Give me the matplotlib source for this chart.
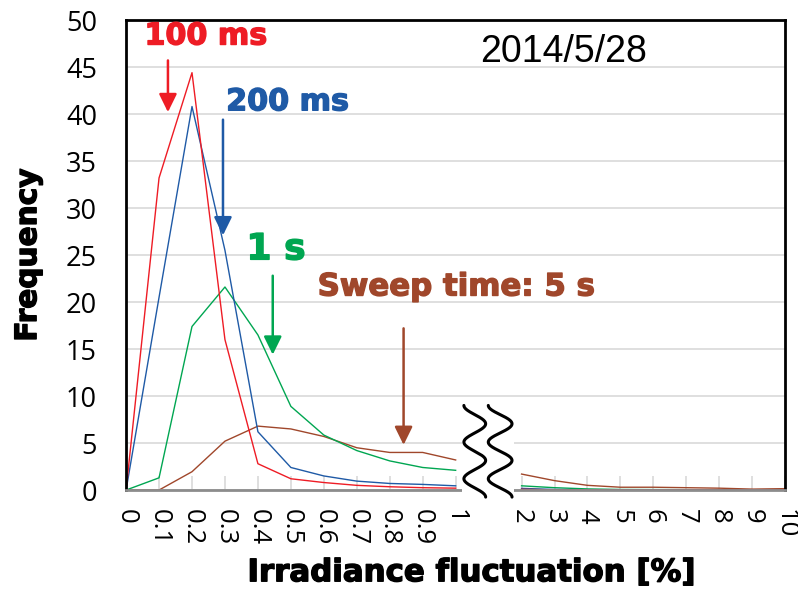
import matplotlib
matplotlib.use("Agg")
import matplotlib.pyplot as plt
import matplotlib.patheffects as pe
import numpy as np
from matplotlib.patches import Rectangle

plt.rcParams['font.family'] = ['Liberation Sans', 'DejaVu Sans']

# categories (blank slot = axis break between 1 and 2)
labels = ['0', '0.1', '0.2', '0.3', '0.4', '0.5', '0.6', '0.7', '0.8', '0.9', '1',
          '', '2', '3', '4', '5', '6', '7', '8', '9', '10']

nan = np.nan
ms100 = [0, 33.2, 44.4, 16.0, 2.8, 1.2, 0.8, 0.5, 0.35, 0.25, 0.2,
         nan, 0.08, 0.02, 0.01, 0, 0, 0, 0, 0, 0]
ms200 = [0, 20.5, 40.8, 25.5, 6.2, 2.4, 1.5, 0.95, 0.7, 0.6, 0.45,
         nan, 0.18, 0.06, 0.03, 0.02, 0.01, 0.01, 0, 0, 0]
s1 = [0, 1.3, 17.4, 21.6, 16.5, 8.9, 5.85, 4.2, 3.1, 2.4, 2.1,
      nan, 0.45, 0.25, 0.12, 0.06, 0.05, 0.04, 0.03, 0.02, 0.02]
s5 = [0, 0, 1.95, 5.2, 6.8, 6.5, 5.7, 4.5, 4.0, 4.0, 3.2,
      nan, 1.7, 1.0, 0.5, 0.3, 0.3, 0.25, 0.2, 0.1, 0.15]

c_red = '#ee1c25'
c_blue = '#1f5aa6'
c_green = '#00a651'
c_brown = '#a0472b'


def heavy(col):
    # fake a black-weight face by stroking the glyph outline
    return dict(family='DejaVu Sans', fontweight='bold', color=col,
                path_effects=[pe.withStroke(linewidth=1.0, foreground=col)])


x = np.arange(len(labels))

fig = plt.figure(figsize=(7.98, 5.89), dpi=100)
ax = fig.add_axes([0.158, 0.168, 0.826, 0.798])

ax.plot(x, s5, color=c_brown, lw=1.0, zorder=2)
ax.plot(x, s1, color=c_green, lw=1.0, zorder=2)
ax.plot(x, ms200, color=c_blue, lw=1.0, zorder=2)
ax.plot(x, ms100, color=c_red, lw=1.0, zorder=2)

ax.set_xlim(0, len(labels) - 1)
ax.set_ylim(0, 50)
ax.set_yticks(np.arange(0, 51, 5))
ax.set_xticks(x)
ax.set_xticklabels(labels, rotation=270, fontsize=18.5, family='Open Sans')
for lab in ax.get_yticklabels():
    lab.set_family('Open Sans')
ax.tick_params(axis='y', length=0, labelsize=19.5, pad=21)
ax.tick_params(axis='x', direction='in', length=10, color='#d9d9d9', width=1.2, pad=14)
ax.yaxis.grid(True, color='#d9d9d9', lw=1.2)
ax.set_axisbelow(True)

for s in ['left', 'top', 'right']:
    ax.spines[s].set_color('black')
    ax.spines[s].set_linewidth(2)
ax.spines['bottom'].set_color('#8c8c8c')
ax.spines['bottom'].set_linewidth(2)

# axis break
ax.add_patch(Rectangle((10.2, -1.0), 1.56, 10.3, facecolor='white', edgecolor='none',
                       zorder=3, clip_on=False))
t = np.linspace(0, 1, 300)
yy = 9.0 - t * 9.75
for xc, amp in [(10.58, 0.33), (11.35, 0.36)]:
    ax.plot(xc - amp * np.cos(2 * np.pi * 2.5 * t), yy, color='black', lw=2.2,
            zorder=4, clip_on=False, solid_capstyle='round')

ax.set_ylabel('Frequency', fontsize=21.3, labelpad=17, **heavy('black'))
ax.set_xlabel('Irradiance fluctuation [%]', fontsize=22.2, labelpad=9, **heavy('black'))
ax.xaxis.label.set_x(0.525)

ax.text(13.27, 46.6, '2014/5/28', fontsize=27, ha='center', va='center')

# annotations
ax.text(2.42, 48.3, '100 ms', fontsize=21.7, ha='center', va='center', **heavy(c_red))
ax.text(4.9, 41.3, '200 ms', fontsize=21.7, ha='center', va='center', **heavy(c_blue))
ax.text(4.55, 25.6, '1 s', fontsize=26, ha='center', va='center', **heavy(c_green))
ax.text(10.03, 21.6, 'Sweep time: 5 s', fontsize=22.2, ha='center', va='center',
        **heavy(c_brown))

arrows = [(1.27, 45.7, 40.2, c_red), (2.94, 39.4, 27.1, c_blue),
          (4.45, 22.8, 14.4, c_green), (8.42, 17.2, 4.8, c_brown)]
for ax_x, y0, y1, col in arrows:
    ax.annotate('', xy=(ax_x, y1), xytext=(ax_x, y0),
                arrowprops=dict(arrowstyle='-|>,head_length=0.55,head_width=0.27',
                                color=col, lw=1.8, mutation_scale=20,
                                shrinkA=0, shrinkB=0))

fig.savefig('out.png', dpi=100)
